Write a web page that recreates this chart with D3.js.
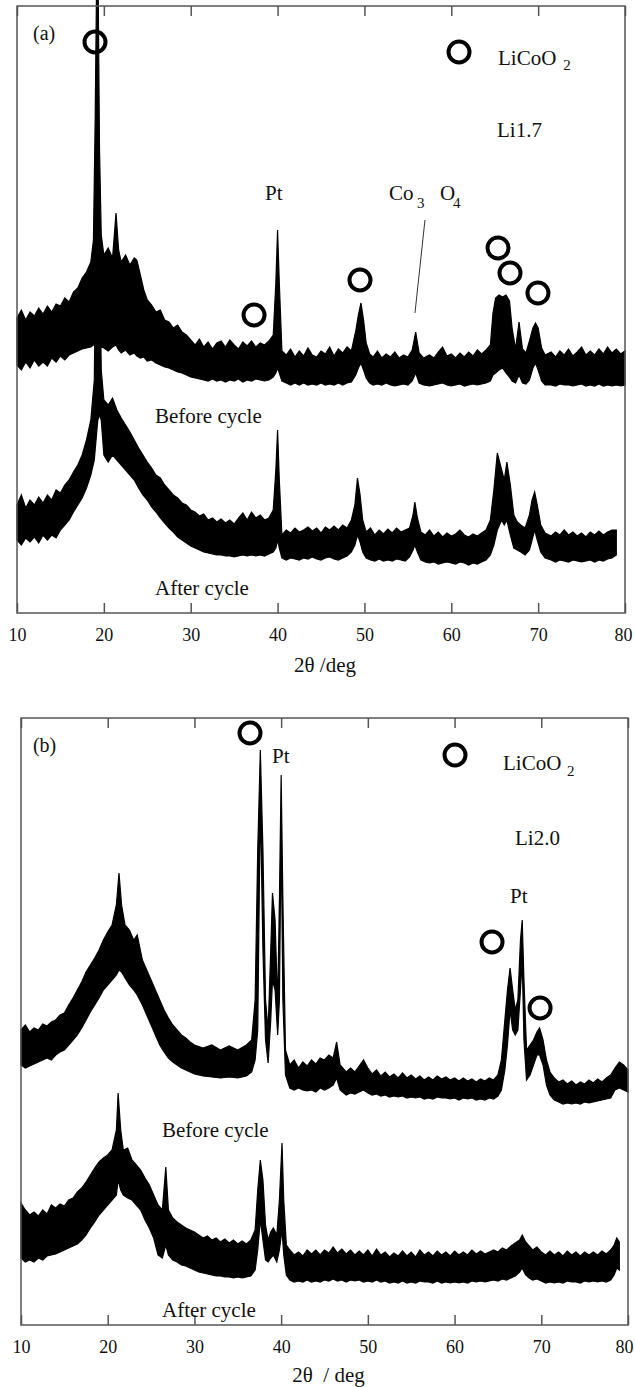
<!DOCTYPE html>
<html lang="en">
<head>
    <title>XRD patterns Li1.7 / Li2.0</title>
    <meta charset="utf-8">
    <script src="https://d3js.org/d3.v7.min.js"></script>
    <style>
        body { margin: 0; background: #fff; }
        text { font-family: "Liberation Serif", "Times New Roman", serif; fill: #111; }
    </style>
</head>
<body>
<div id="chart"></div>
<script>
    // 2theta ticks shared by both panels
    const tickValues = [10, 20, 30, 40, 50, 60, 70, 80];

    // Each row: [2theta (deg), upper edge of noisy trace, lower edge] in a.u.
    // (a) Li1.7, before cycle
    const beforeA = [
        [10, 295, 248], [10.5, 303, 243], [11, 293, 251], [11.5, 301, 245], [12, 297, 253], [12.5, 305, 247],
        [13, 299, 251], [13.5, 307, 247], [14, 301, 255], [14.5, 309, 251], [15, 307, 257], [15.5, 315, 253],
        [16, 311, 258], [16.5, 321, 260], [17, 325, 262], [17.5, 335, 264], [18, 341, 265], [18.5, 351, 266],
        [18.8, 373, 268], [19, 493, 270], [19.15, 620, 275], [19.35, 620, 272], [19.5, 463, 268], [19.7, 378, 266],
        [20, 358, 265], [20.5, 365, 262], [21, 355, 266], [21.4, 400, 268], [21.7, 363, 263], [22, 351, 260],
        [22.5, 358, 263], [23, 348, 258], [23.5, 355, 260], [23.8, 353, 257], [24.2, 338, 255], [24.6, 323, 256],
        [25, 313, 252], [25.5, 308, 253], [26, 301, 250], [26.5, 303, 248], [27, 293, 246], [27.5, 291, 245],
        [28, 285, 243], [28.5, 288, 241], [29, 281, 240], [29.5, 278, 238], [30, 273, 236], [30.5, 268, 235],
        [31, 274, 234], [31.5, 266, 233], [32, 271, 232], [32.5, 264, 234], [33, 270, 232], [33.5, 272, 233],
        [34, 266, 231], [34.5, 273, 233], [35, 268, 232], [35.5, 264, 234], [36, 271, 231], [36.5, 267, 233],
        [37, 272, 232], [37.5, 266, 234], [38, 270, 233], [38.5, 268, 232], [39, 272, 233], [39.5, 278, 236],
        [39.8, 330, 240], [40, 383, 245], [40.2, 330, 240], [40.5, 262, 232], [41, 258, 230], [41.5, 264, 228],
        [42, 256, 230], [42.5, 262, 228], [43, 257, 230], [43.5, 265, 228], [44, 258, 229], [44.5, 256, 228],
        [45, 262, 230], [45.5, 259, 228], [46, 266, 229], [46.5, 257, 228], [47, 264, 230], [47.5, 260, 228],
        [48, 266, 230], [48.5, 262, 231], [49, 282, 238], [49.3, 298, 245], [49.6, 310, 250], [49.9, 293, 243],
        [50.2, 270, 235], [50.6, 259, 230], [51, 256, 228], [51.5, 262, 229], [52, 255, 228], [52.5, 259, 230],
        [53, 256, 228], [53.5, 261, 227], [54, 255, 228], [54.5, 258, 229], [55, 256, 228], [55.5, 263, 232],
        [55.9, 281, 240], [56.3, 260, 230], [56.8, 255, 228], [57.5, 258, 227], [58, 255, 228], [58.5, 261, 229],
        [59, 266, 230], [59.5, 257, 228], [60, 259, 227], [60.5, 255, 228], [61, 260, 229], [61.5, 256, 227],
        [62, 261, 228], [62.5, 257, 229], [63, 263, 228], [63.5, 259, 229], [64, 263, 230], [64.5, 268, 232],
        [64.8, 300, 238], [65.1, 315, 240], [65.5, 318, 243], [65.9, 316, 245], [66.3, 318, 240], [66.7, 312, 236],
        [67, 285, 232], [67.4, 264, 230], [67.8, 291, 238], [68.2, 264, 230], [68.6, 260, 229], [69, 272, 233],
        [69.4, 285, 245], [69.7, 290, 250], [70, 285, 243], [70.4, 265, 232], [70.8, 258, 228], [71.5, 261, 228],
        [72, 256, 227], [72.5, 262, 229], [73, 258, 228], [73.5, 264, 228], [74, 257, 227], [74.5, 261, 228],
        [75, 266, 229], [75.5, 258, 227], [76, 262, 228], [76.5, 258, 227], [77, 264, 229], [77.5, 259, 227],
        [78, 266, 228], [78.5, 260, 227], [79, 264, 228], [79.5, 259, 227], [80, 262, 228]
    ];

    // (a) Li1.7, after cycle
    const afterA = [
        [10, 108, 73], [10.5, 118, 68], [11, 105, 75], [11.5, 113, 71], [12, 108, 76], [12.5, 116, 70],
        [13, 110, 78], [13.5, 118, 73], [14, 113, 78], [14.5, 123, 75], [15, 120, 83], [15.5, 128, 88],
        [16, 133, 93], [16.5, 141, 101], [17, 148, 108], [17.5, 158, 115], [18, 173, 125], [18.5, 193, 138],
        [18.9, 233, 153], [19.1, 413, 173], [19.3, 498, 193], [19.5, 363, 198], [19.7, 243, 193], [20, 213, 158],
        [20.5, 208, 151], [21, 215, 158], [21.5, 203, 153], [22, 195, 148], [22.5, 188, 143], [23, 181, 138],
        [23.5, 173, 133], [24, 165, 125], [24.5, 158, 118], [25, 151, 113], [25.5, 145, 106], [26, 138, 101],
        [26.5, 135, 95], [27, 128, 90], [27.5, 123, 85], [28, 118, 81], [28.5, 115, 76], [29, 110, 73],
        [29.5, 108, 70], [30, 103, 67], [30.5, 101, 65], [31, 97, 63], [31.5, 99, 61], [32, 93, 60],
        [32.5, 95, 59], [33, 91, 58], [33.5, 94, 58], [34, 90, 57], [34.5, 93, 57], [35, 89, 56],
        [35.5, 95, 57], [36, 100, 58], [36.5, 93, 57], [37, 101, 58], [37.5, 95, 57], [38, 98, 58],
        [38.5, 93, 57], [39, 95, 59], [39.5, 103, 61], [39.8, 143, 65], [40, 183, 73], [40.2, 133, 65],
        [40.5, 78, 55], [41, 83, 53], [41.5, 80, 55], [42, 85, 54], [42.5, 81, 53], [43, 83, 55],
        [43.5, 86, 54], [44, 82, 56], [44.5, 85, 54], [45, 80, 53], [45.5, 86, 55], [46, 83, 56],
        [46.5, 87, 54], [47, 83, 53], [47.5, 88, 55], [48, 85, 57], [48.5, 93, 61], [48.9, 108, 68],
        [49.2, 135, 78], [49.5, 118, 71], [49.8, 93, 61], [50.2, 81, 55], [50.7, 85, 53], [51.2, 78, 52],
        [51.7, 83, 54], [52.2, 79, 52], [52.7, 84, 53], [53.2, 80, 52], [53.7, 85, 54], [54.2, 81, 53],
        [54.7, 83, 52], [55.2, 85, 56], [55.6, 98, 63], [55.8, 111, 68], [56.1, 95, 61], [56.5, 81, 53],
        [57, 78, 51], [57.5, 83, 50], [58, 77, 51], [58.5, 81, 49], [59, 76, 50], [59.5, 80, 51],
        [60, 77, 50], [60.5, 79, 49], [61, 83, 51], [61.5, 78, 50], [62, 76, 48], [62.5, 79, 50],
        [63, 77, 49], [63.5, 80, 51], [64, 83, 53], [64.5, 93, 58], [64.9, 123, 68], [65.3, 160, 83],
        [65.8, 143, 93], [66.1, 133, 88], [66.4, 151, 93], [66.8, 128, 78], [67.2, 98, 65], [67.6, 91, 63],
        [68, 88, 61], [68.5, 85, 58], [69, 98, 63], [69.3, 113, 73], [69.6, 121, 83], [69.9, 108, 73],
        [70.3, 88, 61], [70.8, 80, 55], [71.5, 77, 53], [72, 81, 51], [72.5, 78, 53], [73, 83, 52],
        [73.5, 78, 51], [74, 81, 53], [74.5, 77, 52], [75, 80, 51], [75.5, 76, 52], [76, 81, 53],
        [76.5, 78, 51], [77, 82, 53], [77.5, 78, 52], [78, 81, 54], [78.5, 83, 55], [79, 83, 58]
    ];

    // (b) Li2.0, before cycle
    const beforeB = [
        [10, 295, 260], [10.5, 300, 257], [11, 293, 259], [11.5, 297, 261], [12, 295, 263], [12.5, 301, 265],
        [13, 299, 267], [13.5, 303, 265], [14, 305, 270], [14.5, 310, 273], [15, 312, 275], [15.5, 320, 280],
        [16, 327, 285], [16.5, 335, 290], [17, 343, 297], [17.5, 353, 305], [18, 360, 313], [18.5, 367, 320],
        [19, 375, 327], [19.5, 385, 335], [20, 393, 340], [20.5, 400, 345], [21, 420, 350], [21.3, 452, 355],
        [21.6, 420, 353], [22, 400, 347], [22.5, 395, 340], [23, 385, 335], [23.4, 390, 330], [24, 365, 320],
        [24.5, 355, 310], [25, 345, 300], [25.5, 335, 290], [26, 325, 280], [26.5, 315, 273], [27, 307, 267],
        [27.5, 300, 263], [28, 295, 260], [28.5, 290, 257], [29, 287, 255], [29.5, 283, 253], [30, 280, 251],
        [31, 277, 249], [32, 280, 248], [33, 275, 247], [34, 279, 248], [35, 275, 247], [36, 280, 249],
        [36.6, 285, 253], [37, 325, 265], [37.3, 475, 295], [37.6, 575, 525], [37.9, 475, 375], [38.2, 325, 285],
        [38.5, 295, 262], [38.8, 375, 305], [39, 432, 345], [39.3, 405, 335], [39.6, 320, 290], [39.8, 425, 325],
        [40, 550, 495], [40.2, 425, 325], [40.5, 275, 250], [41, 260, 237], [41.5, 265, 235], [42, 257, 237],
        [42.5, 263, 235], [43, 259, 234], [43.5, 265, 235], [44, 261, 233], [44.5, 267, 237], [45, 265, 235],
        [45.5, 270, 237], [46, 267, 240], [46.4, 283, 247], [46.8, 260, 235], [47.5, 253, 230], [48, 257, 232],
        [48.5, 253, 231], [49, 259, 233], [49.5, 265, 235], [50, 257, 232], [50.5, 251, 230], [51, 255, 231],
        [51.5, 249, 229], [52, 253, 230], [52.5, 248, 228], [53, 251, 229], [53.5, 247, 228], [54, 252, 229],
        [54.5, 247, 227], [55, 250, 228], [55.5, 246, 227], [56, 249, 228], [56.5, 245, 226], [57, 248, 227],
        [57.5, 245, 226], [58, 249, 228], [58.5, 246, 227], [59, 248, 227], [59.5, 245, 226], [60, 247, 227],
        [60.5, 244, 225], [61, 247, 227], [61.5, 244, 226], [62, 246, 227], [62.5, 243, 225], [63, 246, 226],
        [63.5, 244, 225], [64, 247, 227], [64.5, 245, 226], [65, 250, 229], [65.4, 265, 235], [65.8, 305, 255],
        [66.1, 335, 280], [66.4, 357, 315], [66.7, 335, 295], [67, 315, 290], [67.3, 325, 295], [67.6, 385, 335],
        [67.8, 405, 365], [68, 345, 285], [68.3, 275, 245], [68.7, 280, 250], [69.1, 285, 260], [69.5, 293, 270],
        [69.8, 297, 270], [70.2, 285, 260], [70.6, 265, 240], [71, 253, 230], [71.5, 247, 225], [72, 243, 223],
        [72.5, 245, 221], [73, 241, 222], [73.5, 244, 221], [74, 240, 222], [74.5, 243, 221], [75, 241, 223],
        [75.5, 245, 222], [76, 242, 223], [76.5, 246, 224], [77, 243, 225], [77.5, 247, 226], [78, 250, 227],
        [78.5, 257, 235], [79, 263, 237], [79.5, 260, 235], [80, 255, 233]
    ];

    // (b) Li2.0, after cycle
    const afterB = [
        [10, 122, 67], [10.5, 115, 63], [11, 110, 65], [11.5, 113, 63], [12, 109, 67], [12.5, 115, 65],
        [13, 111, 69], [13.5, 120, 70], [14, 117, 71], [14.5, 121, 73], [15, 119, 75], [15.5, 125, 77],
        [16, 127, 79], [16.5, 133, 81], [17, 137, 85], [17.5, 143, 90], [18, 150, 97], [18.5, 157, 103],
        [19, 163, 110], [19.5, 167, 115], [20, 170, 120], [20.5, 175, 125], [21, 195, 130], [21.2, 232, 145],
        [21.5, 195, 135], [21.8, 175, 130], [22.3, 177, 127], [22.8, 165, 125], [23.3, 160, 120], [23.8, 155, 115],
        [24.3, 147, 105], [24.8, 140, 97], [25.3, 130, 87], [25.8, 120, 70], [26.3, 115, 67], [26.7, 158, 80],
        [27, 115, 70], [27.5, 107, 65], [28, 103, 63], [28.5, 100, 60], [29, 97, 59], [29.5, 95, 57],
        [30, 93, 55], [30.5, 90, 53], [31, 87, 52], [31.5, 89, 51], [32, 85, 50], [32.5, 87, 49],
        [33, 83, 49], [33.5, 86, 48], [34, 82, 48], [34.5, 85, 47], [35, 81, 48], [35.5, 84, 47],
        [36, 81, 48], [36.5, 85, 49], [37, 95, 55], [37.3, 135, 75], [37.6, 165, 105], [37.9, 145, 85],
        [38.2, 100, 65], [38.5, 85, 63], [38.8, 93, 67], [39.1, 97, 70], [39.5, 90, 63], [39.8, 125, 75],
        [40.1, 182, 95], [40.3, 125, 70], [40.6, 80, 50], [41, 75, 45], [41.5, 70, 43], [42, 73, 44],
        [42.5, 69, 43], [43, 75, 45], [43.5, 71, 43], [44, 75, 44], [44.5, 70, 43], [45, 75, 45],
        [45.5, 72, 44], [46, 78, 46], [46.5, 72, 44], [47, 76, 45], [47.5, 71, 43], [48, 75, 45],
        [48.5, 70, 44], [49, 74, 45], [49.5, 70, 43], [50, 75, 44], [50.5, 69, 43], [51, 76, 45],
        [51.5, 70, 43], [52, 73, 44], [52.5, 68, 42], [53, 72, 43], [53.5, 69, 42], [54, 74, 44],
        [54.5, 69, 42], [55, 73, 43], [55.5, 68, 42], [56, 75, 44], [56.5, 70, 43], [57, 73, 43],
        [57.5, 69, 42], [58, 74, 44], [58.5, 70, 42], [59, 73, 43], [59.5, 69, 42], [60, 74, 43],
        [60.5, 70, 42], [61, 73, 43], [61.5, 70, 42], [62, 75, 44], [62.5, 71, 43], [63, 74, 44],
        [63.5, 71, 43], [64, 73, 44], [64.5, 75, 45], [65, 73, 44], [65.5, 77, 46], [66, 75, 45],
        [66.5, 79, 47], [67, 82, 49], [67.5, 85, 53], [67.8, 90, 57], [68.2, 83, 50], [68.6, 79, 47],
        [69, 75, 45], [69.5, 78, 46], [70, 73, 44], [70.5, 70, 42], [71, 74, 43], [71.5, 70, 42],
        [72, 73, 43], [72.5, 69, 42], [73, 74, 44], [73.5, 70, 43], [74, 73, 43], [74.5, 69, 42],
        [75, 73, 44], [75.5, 70, 43], [76, 73, 44], [76.5, 70, 43], [77, 74, 44], [77.5, 71, 43],
        [78, 75, 45], [78.4, 80, 50], [78.7, 87, 57], [79, 83, 55]
    ];

    // LiCoO2 markers: [2theta, a.u.]
    const circlesA = [[18.98, 571], [60.89, 561], [37.29, 298], [49.49, 333], [65.38, 365], [66.76, 340], [69.98, 320]];
    const circlesB = [[36.41, 592], [60.05, 570], [64.32, 383], [69.86, 317]];

    // Annotations: [2theta, a.u. (baseline), text, font size]
    const labelsA = [
        [11.84, 573, "(a)", 20], [65.38, 548, "LiCoO", 21], [72.9, 543, "2", 15], [65.26, 476, "Li1.7", 21],
        [38.55, 413, "Pt", 21], [52.83, 413, "Co", 21], [56.05, 405, "3", 15], [58.7, 413, "O", 21],
        [60.2, 405, "4", 15], [25.89, 190, "Before cycle", 21], [25.89, 18, "After cycle", 21]
    ];
    const labelsB = [
        [11.38, 573, "(b)", 20], [38.95, 562, "Pt", 21], [65.59, 555, "LiCoO", 21], [72.97, 549, "2", 15],
        [66.97, 480, "Li2.0", 21], [66.39, 422, "Pt", 21], [26.26, 188, "Before cycle", 21],
        [26.26, 8, "After cycle", 21]
    ];
    // Co3O4 leader line in (a): [[2theta, a.u.], [2theta, a.u.]]
    const leaderA = [[56.97, 393], [55.82, 300]];

    const svg = d3.select("#chart")
        .append("svg")
        .attr("width", 635)
        .attr("height", 1387)
        .style("background", "#fff");

    function drawPanel(p) {
        const x = d3.scaleLinear().domain([10, 80]).range([p.left, p.right]);
        const y = d3.scaleLinear().domain([0, p.bottom - p.top]).range([p.bottom, p.top]);
        const g = svg.append("g");

        const area = d3.area()
            .x(d => x(d[0]))
            .y0(d => y(d[2]))
            .y1(d => y(d[1]));

        g.selectAll("path.trace")
            .data([p.before, p.after])
            .join("path")
            .attr("class", "trace")
            .attr("d", area)
            .attr("fill", "#000")
            .attr("stroke", "#000")
            .attr("stroke-width", 1.2)
            .attr("stroke-linejoin", "miter");

        // frame
        g.append("rect")
            .attr("x", p.left).attr("y", p.top)
            .attr("width", p.right - p.left).attr("height", p.bottom - p.top)
            .attr("fill", "none").attr("stroke", "#555").attr("stroke-width", 1.5);

        const styleAxis = a => {
            a.select(".domain").remove();
            a.selectAll(".tick line").attr("stroke", "#555").attr("stroke-width", 1.5);
            a.selectAll("text")
                .attr("font-size", 18)
                .attr("font-family", "Liberation Serif, serif")
                .attr("fill", "#111");
            // keep the last label inside the page
            a.selectAll("text").filter(d => d === 80).attr("dx", p.lastDx);
        };

        g.append("g")
            .attr("transform", `translate(0,${p.bottom})`)
            .call(d3.axisBottom(x).tickValues(tickValues).tickSizeInner(-10).tickSizeOuter(0).tickPadding(15))
            .call(styleAxis);

        g.append("g")
            .attr("transform", `translate(0,${p.top})`)
            .call(d3.axisTop(x).tickValues(tickValues).tickSizeInner(-10).tickSizeOuter(0).tickFormat(""))
            .call(styleAxis);

        g.selectAll("circle.marker")
            .data(p.circles)
            .join("circle")
            .attr("class", "marker")
            .attr("cx", d => x(d[0]))
            .attr("cy", d => y(d[1]))
            .attr("r", 10.5)
            .attr("fill", "none")
            .attr("stroke", "#000")
            .attr("stroke-width", 4);

        g.selectAll("text.note")
            .data(p.labels)
            .join("text")
            .attr("class", "note")
            .attr("x", d => x(d[0]))
            .attr("y", d => y(d[1]))
            .attr("font-size", d => d[3])
            .text(d => d[2]);

        if (p.leader) {
            g.append("line")
                .attr("x1", x(p.leader[0][0])).attr("y1", y(p.leader[0][1]))
                .attr("x2", x(p.leader[1][0])).attr("y2", y(p.leader[1][1]))
                .attr("stroke", "#333").attr("stroke-width", 1);
        }

        g.append("text")
            .attr("x", (p.left + p.right) / 2 + 4)
            .attr("y", p.bottom + p.titleGap)
            .attr("text-anchor", "middle")
            .attr("font-size", 21)
            .style("white-space", "pre")
            .text(p.title);
    }

    drawPanel({left: 17, right: 625, top: 6, bottom: 613, before: beforeA, after: afterA, lastDx: -2,
        circles: circlesA, labels: labelsA, leader: leaderA, title: "2\u03b8 /deg", titleGap: 59});
    drawPanel({left: 21, right: 628, top: 718, bottom: 1325, before: beforeB, after: afterB, lastDx: -4,
        circles: circlesB, labels: labelsB, leader: null, title: "2\u03b8  / deg", titleGap: 57});
</script>
</body>
</html>
